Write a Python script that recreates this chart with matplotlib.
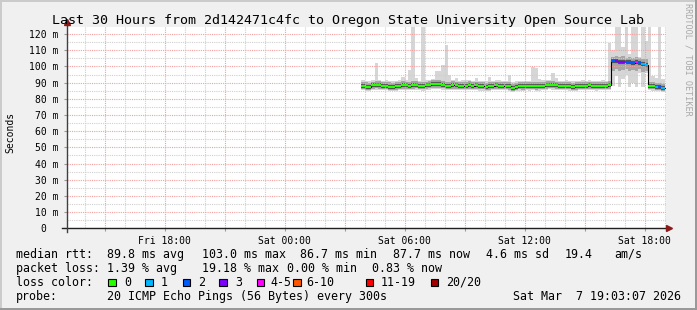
"""SmokePing style latency graph: last 30 hours to OSU OSL"""
import numpy as np
import matplotlib
matplotlib.use("Agg")
import matplotlib.pyplot as plt
from matplotlib.patches import Rectangle

W, H = 697, 310

# sample times: hours since Fri 00:00, one sample every 10 minutes starting Sat 03:50
t0 = 27 + 50 / 60.
dt = 1 / 6.

# median rtt [ms]
med = [
    88.2, 87.6, 87.5, 88.3, 88.8, 88.4, 88.0, 88.2, 87.6, 87.5,
    87.7, 88.2, 88.5, 88.3, 88.0, 88.4, 88.6, 88.1, 87.9, 88.3,
    88.6, 89.1, 89.3, 89.2, 88.7, 88.2, 88.0, 88.4, 88.3, 88.1,
    88.0, 88.2, 88.4, 88.1, 88.3, 88.0, 87.9, 87.6, 87.8, 88.1,
    88.3, 88.2, 88.0, 88.1, 87.8, 86.6, 87.5, 87.9, 87.8, 88.0,
    87.9, 88.1, 87.8, 87.9, 88.2, 88.5, 88.7, 88.6, 88.3, 88.1,
    88.0, 88.2, 87.9, 87.6, 87.8, 88.0, 88.2, 88.1, 88.3, 88.0,
    87.9, 88.1, 88.2, 88.0, 88.6,
    103.4, 103.3, 103.0, 102.9, 102.8, 102.6, 102.4, 102.5, 102.1, 101.4, 101.1,
    88.0, 87.8, 87.4, 87.1, 86.9]

# lost pings out of 20
loss = [0] * 75 + [2, 3, 3, 3, 2, 2, 2, 4, 2, 1, 1] + [0, 0, 1, 2, 1]

# dense smoke band [ms]
band_lo = [
    86.0, 85.6, 85.5, 86.1, 86.4, 86.2, 85.9, 86.0, 85.6, 85.5,
    85.7, 86.0, 86.3, 86.1, 85.9, 86.2, 86.4, 86.0, 85.8, 86.1,
    86.4, 86.7, 86.9, 86.8, 86.4, 86.0, 85.9, 86.2, 86.1, 85.9,
    85.9, 86.0, 86.2, 85.9, 86.1, 85.8, 85.8, 85.5, 85.7, 85.9,
    86.1, 86.0, 85.9, 85.9, 85.7, 85.0, 85.5, 85.8, 85.7, 85.9,
    85.8, 85.9, 85.7, 85.8, 86.0, 86.3, 86.5, 86.4, 86.1, 85.9,
    85.9, 86.0, 85.8, 85.5, 85.7, 85.9, 86.0, 85.9, 86.1, 85.9,
    85.8, 85.9, 86.0, 85.9, 86.3,
    97.5, 98.5, 97.0, 98.0, 98.5, 97.5, 98.0, 97.0, 98.5, 96.5, 97.5,
    86.0, 85.8, 85.5, 85.3, 85.1]
band_hi = [
    90.6, 90.1, 90.0, 90.7, 91.2, 90.8, 90.4, 90.6, 90.1, 90.0,
    90.2, 90.6, 90.9, 90.7, 90.4, 90.8, 91.0, 90.5, 90.3, 90.7,
    91.0, 91.4, 91.6, 91.5, 91.0, 90.6, 90.4, 90.8, 90.7, 90.5,
    90.4, 90.6, 90.8, 90.5, 90.7, 90.4, 90.3, 90.0, 90.2, 90.5,
    90.7, 90.6, 90.4, 90.5, 90.2, 89.4, 90.0, 90.3, 90.2, 90.4,
    90.3, 90.5, 90.2, 90.3, 90.6, 90.9, 91.1, 91.0, 90.7, 90.5,
    90.4, 90.6, 90.3, 90.0, 90.2, 90.4, 90.6, 90.5, 90.7, 90.4,
    90.3, 90.5, 90.6, 90.4, 91.2,
    106.0, 106.5, 105.8, 106.3, 105.5, 106.0, 105.2, 105.8, 105.0, 104.5, 104.8,
    90.5, 90.2, 89.8, 89.5, 89.3]

# min / max ping [ms]
ping_min = [
    85.3, 85.0, 84.9, 85.4, 85.7, 85.5, 85.2, 85.3, 85.0, 84.9,
    85.1, 85.3, 85.6, 85.4, 85.2, 85.5, 85.7, 85.3, 85.1, 85.4,
    85.7, 86.0, 86.2, 86.1, 85.7, 85.3, 85.2, 85.5, 85.4, 85.2,
    85.2, 85.3, 85.5, 85.2, 85.4, 85.1, 85.1, 84.8, 85.0, 85.2,
    85.4, 85.3, 85.2, 85.2, 85.0, 84.4, 84.8, 85.1, 85.0, 85.2,
    85.1, 85.2, 85.0, 85.1, 85.3, 85.6, 85.8, 85.7, 85.4, 85.2,
    85.2, 85.3, 85.1, 84.8, 85.0, 85.2, 85.3, 85.2, 85.4, 85.2,
    85.1, 85.2, 85.3, 85.2, 85.6,
    88.0, 94.0, 87.5, 92.0, 95.0, 87.5, 90.0, 87.5, 96.0, 87.5, 96.0,
    85.3, 85.0, 84.8, 84.6, 84.5]
ping_max = [
    91.4, 91.0, 90.8, 91.5, 102.3, 91.6, 91.2, 91.4, 90.9, 90.8,
    91.0, 91.4, 93.3, 91.5, 97.8, 124.5, 93.0, 91.3, 124.5, 91.5,
    91.8, 92.2, 97.4, 97.0, 101.0, 113.2, 94.7, 91.6, 92.6, 91.3,
    91.8, 91.4, 91.6, 91.3, 93.0, 91.2, 91.1, 90.8, 93.7, 91.3,
    91.5, 91.4, 91.2, 91.3, 94.7, 90.2, 90.8, 91.1, 91.0, 91.2,
    91.1, 99.8, 99.0, 92.5, 91.4, 91.7, 91.9, 95.7, 93.0, 91.3,
    91.2, 91.4, 91.1, 90.8, 91.0, 91.2, 91.4, 91.3, 91.5, 91.2,
    91.1, 91.3, 91.4, 91.2, 114.3,
    110.0, 124.5, 124.5, 112.0, 124.5, 108.0, 124.5, 124.5, 106.0, 124.5, 116.0,
    124.5, 94.0, 93.0, 124.5, 92.0]

loss_labels = ['0', '1', '2', '3', '4-5', '6-10', '11-19', '20/20']
loss_upper = [0, 1, 2, 3, 5, 10, 19, 20]
loss_colors = ['#26ff00', '#00b8ff', '#0059ff', '#7e00ff',
               '#ff00ff', '#ff5500', '#ff0000', '#a10000']

xtick_hours = [18, 24, 30, 36, 42]
xtick_labels = ['Fri 18:00', 'Sat 00:00', 'Sat 06:00', 'Sat 12:00', 'Sat 18:00']

MONO = 'DejaVu Sans Mono'

med = np.array(med)
t = t0 + dt * np.arange(len(med))
band_lo, band_hi = np.array(band_lo), np.array(band_hi)
ping_min, ping_max = np.array(ping_min), np.array(ping_max)
cols = [loss_colors[i] for i in np.searchsorted(loss_upper, loss)]

fig = plt.figure(figsize=(W / 100, H / 100), dpi=100, facecolor='#f0f0f0')
ax = fig.add_axes([66.5 / W, (H - 228.3) / H, 599 / W, 201 / H])
ax.set_facecolor('white')
ax.set_xlim(13.1, 43.05)
ax.set_ylim(0, 124.2)
for s in ax.spines.values():
    s.set_visible(False)

# smoke
ax.bar(t, ping_max - ping_min, width=dt, bottom=ping_min, align='edge',
       color='#d6d6d6', lw=0, zorder=1)
ax.bar(t, band_hi - band_lo, width=dt, bottom=band_lo, align='edge',
       color='#a6a6a6', lw=0, zorder=1.1)
ax.hlines(med, t, t + dt, colors='#555555', lw=3, zorder=1.2)

# median, colored by loss
ax.step(np.append(t, t[-1] + dt), np.append(med, med[-1]), where='post',
        color='black', lw=0.8, zorder=3)
ax.hlines(med, t, t + dt, colors=cols, lw=1.5, zorder=3.5)

# grid
major_x = np.arange(15, 43, 3)
minor_x = [h for h in range(14, 44) if h % 3]
ax.set_xticks(major_x)
ax.set_xticklabels([xtick_labels[xtick_hours.index(h)] if h in xtick_hours else ''
                    for h in major_x])
ax.set_xticks(minor_x, minor=True)
yt = np.arange(0, 121, 10)
ax.set_yticks(yt)
ax.set_yticklabels(['0  '] + ['%d m' % v for v in yt[1:]])
ax.set_yticks(np.arange(5, 125, 10), minor=True)
ax.grid(which='major', color='#f4a0a0', ls=(0, (1, 1)), lw=0.8)
ax.grid(which='minor', color='#cfcfcf', ls=(0, (1, 1)), lw=0.8)
ax.set_axisbelow(False)
ax.tick_params(which='major', length=2.5, width=0.8, color='#999999',
               labelsize=7, labelfontfamily=MONO, pad=3)
ax.tick_params(which='minor', length=0)

# axes with arrows
ax.plot([-0.008, 1.002], [0, 0], transform=ax.transAxes, color='#202020',
        lw=1, clip_on=False, zorder=5)
ax.plot([0, 0], [-0.018, 1.02], transform=ax.transAxes, color='#404040',
        lw=1, clip_on=False, zorder=5)
ax.plot([1.006], [0], '>', transform=ax.transAxes, color='#8b1a1a', ms=4.5,
        clip_on=False, zorder=6)
ax.plot([0], [1.026], '^', transform=ax.transAxes, color='#8b1a1a', ms=4.5,
        clip_on=False, zorder=6)


def ftext(x, y, s, **kw):
    kw.setdefault('family', MONO)
    kw.setdefault('va', 'baseline')
    fig.text(x / W, 1 - y / H, s, **kw)


ftext(348, 24, 'Last 30 Hours from 2d142471c4fc to Oregon State University Open Source Lab',
      size=9.6, ha='center')
ftext(10.5, 132, 'Seconds', size=7, rotation=90, ha='center', va='center')
ftext(688, 59, 'RRDTOOL / TOBI OETIKER', size=6.1, rotation=-90, ha='center',
      va='center', color='#a8a8a8')

fs = 8.4
for x, s in [(16, 'median rtt:'), (107.3, '89.8 ms avg'), (201.7, '103.0 ms max'),
             (300, '86.7 ms min'), (393.3, '87.7 ms now'), (485.7, '4.6 ms sd'),
             (565, '19.4'), (614.3, 'am/s')]:
    ftext(x, 257.7, s, size=fs)
for x, s in [(16, 'packet loss:'), (107.3, '1.39 % avg'), (201.7, '19.18 % max'),
             (286.7, '0.00 % min'), (372.3, '0.83 % now')]:
    ftext(x, 271.7, s, size=fs)
ftext(16, 285.7, 'loss color:', size=fs)
box_x = [108, 145.3, 182.7, 219.3, 256.7, 293.3, 365.7, 430.7]
lab_x = [124, 160.7, 198.3, 235, 270.7, 306.7, 381, 445.7]
for bx, lx, lab, c in zip(box_x, lab_x, loss_labels, loss_colors):
    fig.patches.append(Rectangle((bx / W, 1 - 286 / H), 7.5 / W, 7.5 / H,
                                 transform=fig.transFigure, facecolor=c,
                                 edgecolor='black', lw=0.8))
    ftext(lx, 285.7, lab, size=fs)
ftext(16, 299.7, 'probe:', size=fs)
ftext(107.3, 299.7, '20 ICMP Echo Pings (56 Bytes) every 300s', size=fs)
ftext(513.3, 299.7, 'Sat Mar  7 19:03:07 2026', size=fs)

# 3D frame
for (x, y, w, h, c) in [(0, 0, 2, H, '#cbcbcb'), (0, 0, W, 2, '#cbcbcb'),
                        (W - 2, 0, 2, H, '#999999'), (0, H - 2, W, 2, '#999999')]:
    fig.patches.append(Rectangle((x / W, 1 - (y + h) / H), w / W, h / H,
                                 transform=fig.transFigure, facecolor=c, lw=0))

fig.savefig('out.png', dpi=100, facecolor=fig.get_facecolor())
